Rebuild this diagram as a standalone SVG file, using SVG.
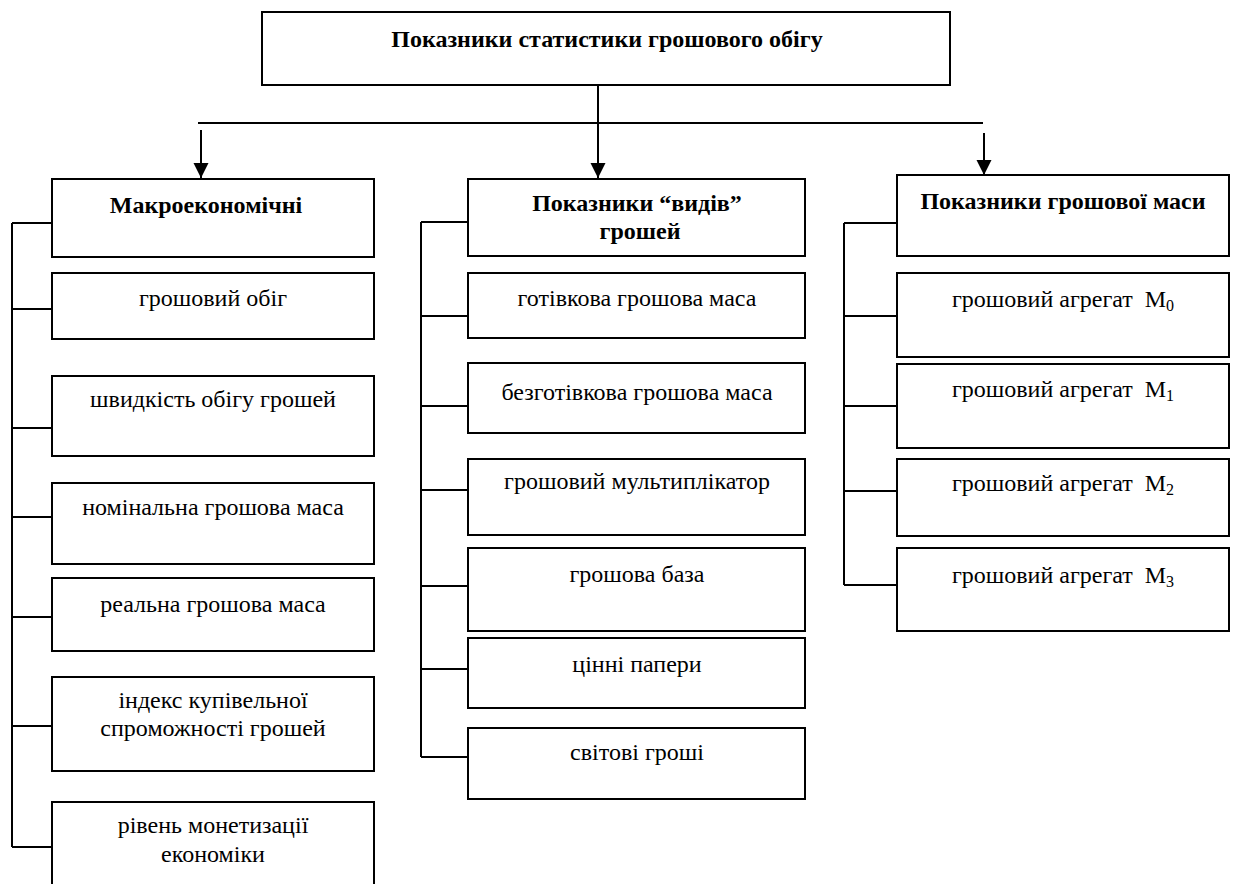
<svg xmlns="http://www.w3.org/2000/svg" width="1233" height="884" viewBox="0 0 1233 884">
<style>
.box{fill:#fff;stroke:#000;stroke-width:2}
.ln{fill:none;stroke:#000;stroke-width:2}
text{font-family:'Liberation Serif','Times New Roman','DejaVu Serif',serif;font-size:24px;fill:#000;text-anchor:middle}
.b{font-weight:bold;font-size:24px}
.sub{font-size:16px}
</style>
<defs>
<marker id="ah" markerUnits="userSpaceOnUse" markerWidth="16" markerHeight="16" refX="15" refY="7.5" orient="auto">
<path d="M0,0 L15,7.5 L0,15 Z" fill="#000"/>
</marker>
</defs>
<rect width="1233" height="884" fill="#fff"/>
<g id="connectors">
<line class="ln" x1="598" y1="85" x2="598" y2="178" marker-end="url(#ah)"/>
<line class="ln" x1="198" y1="123" x2="983" y2="123"/>
<line class="ln" x1="201" y1="130" x2="201" y2="178" marker-end="url(#ah)"/>
<line class="ln" x1="984" y1="133" x2="984" y2="175" marker-end="url(#ah)"/>
<path class="ln" d="M12,223 V847 M12,223 H52 M12,309 H52 M12,428 H52 M12,517 H52 M12,617 H52 M12,726 H52 M12,847 H52"/>
<path class="ln" d="M421,222 V757 M421,222 H468 M421,316 H468 M421,406 H468 M421,490 H468 M421,586 H468 M421,669 H468 M421,757 H468"/>
<path class="ln" d="M844,223 V585 M844,223 H897 M844,316 H897 M844,406 H897 M844,491 H897 M844,585 H897"/>
</g>
<g id="root"><rect class="box" x="262" y="12" width="688" height="73"/><text class="b" x="607" y="47">Показники статистики грошового обігу</text></g>
<g id="macro"><rect class="box" x="52" y="179" width="322" height="78"/><text class="b" x="206" y="213">Макроекономічні</text></g>
<g id="m1"><rect class="box" x="52" y="273" width="322" height="66"/><text x="213" y="306">грошовий обіг</text></g>
<g id="m2"><rect class="box" x="52" y="376" width="322" height="80"/><text x="213" y="407">швидкість обігу грошей</text></g>
<g id="m3"><rect class="box" x="52" y="483" width="322" height="81"/><text x="213" y="515">номінальна грошова маса</text></g>
<g id="m4"><rect class="box" x="52" y="578" width="322" height="73"/><text x="213" y="612">реальна грошова маса</text></g>
<g id="m5"><rect class="box" x="52" y="677" width="322" height="94"/><text x="213" y="708">індекс купівельної</text><text x="213" y="736">спроможності грошей</text></g>
<g id="m6"><rect class="box" x="52" y="802" width="322" height="90"/><text x="213" y="833">рівень монетизації</text><text x="213" y="862">економіки</text></g>
<g id="kinds"><rect class="box" x="468" y="179" width="337" height="77"/><text class="b" x="637" y="211">Показники “видів”</text><text class="b" x="640" y="239">грошей</text></g>
<g id="k1"><rect class="box" x="468" y="273" width="337" height="65"/><text x="637" y="306">готівкова грошова маса</text></g>
<g id="k2"><rect class="box" x="468" y="363" width="337" height="70"/><text x="637" y="400">безготівкова грошова маса</text></g>
<g id="k3"><rect class="box" x="468" y="459" width="337" height="76"/><text x="637" y="489">грошовий мультиплікатор</text></g>
<g id="k4"><rect class="box" x="468" y="548" width="337" height="83"/><text x="637" y="582">грошова база</text></g>
<g id="k5"><rect class="box" x="468" y="638" width="337" height="70"/><text x="637" y="672">цінні папери</text></g>
<g id="k6"><rect class="box" x="468" y="728" width="337" height="71"/><text x="637" y="760">світові гроші</text></g>
<g id="mass"><rect class="box" x="897" y="175" width="332" height="81"/><text class="b" x="1063" y="209">Показники грошової маси</text></g>
<g id="a0"><rect class="box" x="897" y="273" width="332" height="84"/><text x="1063" y="307" xml:space="preserve">грошовий агрегат  M<tspan class="sub" dy="4">0</tspan></text></g>
<g id="a1"><rect class="box" x="897" y="364" width="332" height="84"/><text x="1063" y="397" xml:space="preserve">грошовий агрегат  M<tspan class="sub" dy="4">1</tspan></text></g>
<g id="a2"><rect class="box" x="897" y="459" width="332" height="77"/><text x="1063" y="491" xml:space="preserve">грошовий агрегат  M<tspan class="sub" dy="4">2</tspan></text></g>
<g id="a3"><rect class="box" x="897" y="548" width="332" height="83"/><text x="1063" y="583" xml:space="preserve">грошовий агрегат  M<tspan class="sub" dy="4">3</tspan></text></g>
</svg>
